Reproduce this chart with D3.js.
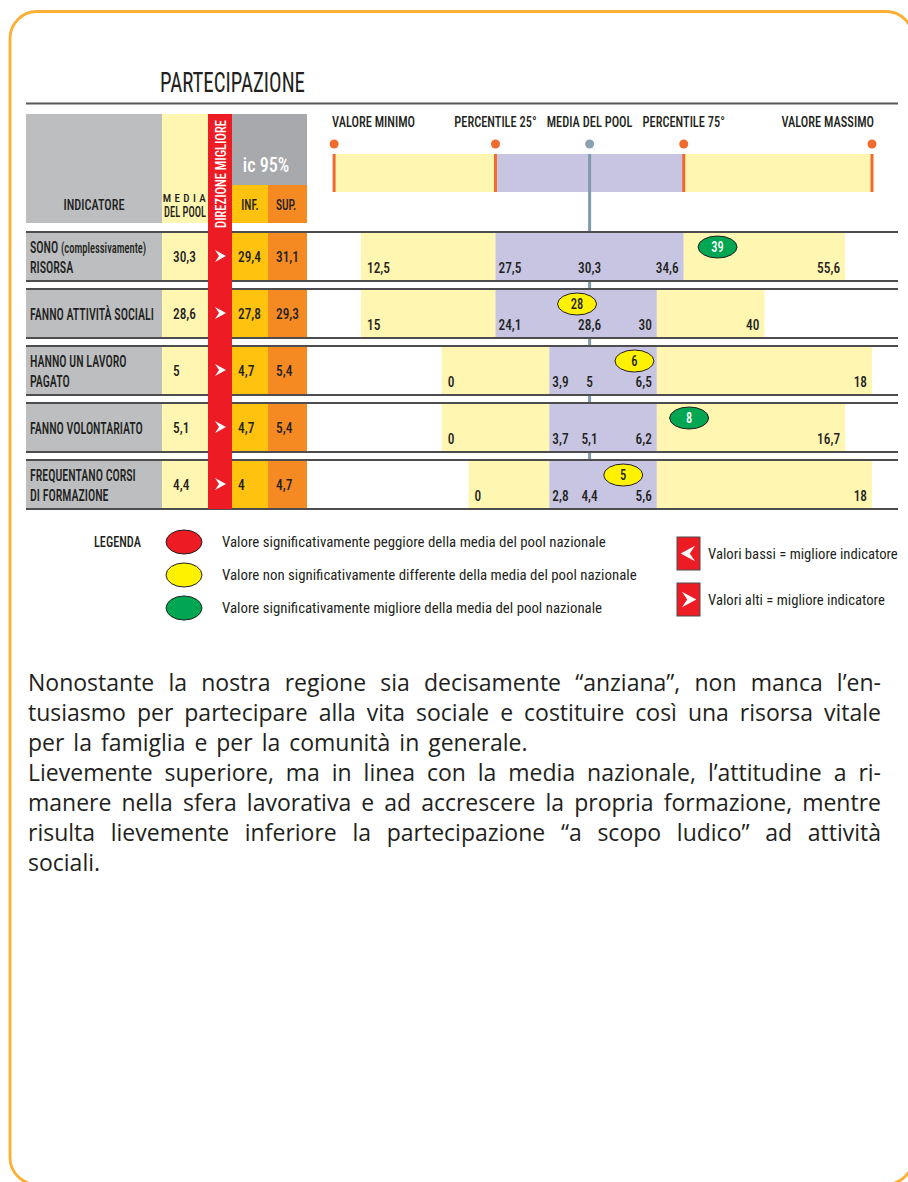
<!DOCTYPE html>
<html>
<head>
<meta charset="utf-8">
<script src="https://cdn.jsdelivr.net/npm/d3@7"></script>
<style>
  body { margin: 0; background: #fff; }
  svg { display: block; }
</style>
</head>
<body>
<script>
// ---- dati ----
var titolo = "PARTECIPAZIONE";
var indicatori = [
    ["SONO (complessivamente)", "RISORSA"],
    ["FANNO ATTIVITÀ SOCIALI"],
    ["HANNO UN LAVORO", "PAGATO"],
    ["FANNO VOLONTARIATO"],
    ["FREQUENTANO CORSI", "DI FORMAZIONE"]
];
var mediaPool = [30.3, 28.6, 5, 5.1, 4.4];
var icInf = [29.4, 27.8, 4.7, 4.7, 4];
var icSup = [31.1, 29.3, 5.4, 5.4, 4.7];
var direzione = ["alti", "alti", "alti", "alti", "alti"];
var valoreMinimo = [12.5, 15, 0, 0, 0];
var percentile25 = [27.5, 24.1, 3.9, 3.7, 2.8];
var percentile75 = [34.6, 30, 6.5, 6.2, 5.6];
var valoreMassimo = [55.6, 40, 18, 16.7, 18];
var valoreRegione = [39, 28, 6, 8, 5];
var giudizio = ["migliore", "nonDiff", "nonDiff", "migliore", "nonDiff"];

var vociScala = ["VALORE MINIMO", "PERCENTILE 25°", "MEDIA DEL POOL", "PERCENTILE 75°", "VALORE MASSIMO"];
var legendaChiavi = ["peggiore", "nonDiff", "migliore"];
var legendaTesti = [
    "Valore  significativamente peggiore  della media del pool nazionale",
    "Valore non significativamente differente della media del pool nazionale",
    "Valore significativamente migliore della media del pool nazionale"
];
var direzioneChiavi = ["bassi", "alti"];
var direzioneTesti = ["Valori bassi = migliore indicatore", "Valori alti = migliore indicatore"];

var paragrafi = [
    ["Nonostante la nostra regione sia decisamente “anziana”, non manca l’en-",
     "tusiasmo per partecipare alla vita sociale e costituire così una risorsa vitale",
     "per la famiglia e per la comunità in generale."],
    ["Lievemente superiore, ma in linea con la media nazionale, l’attitudine a ri-",
     "manere nella sfera lavorativa e ad accrescere la propria formazione, mentre",
     "risulta lievemente inferiore la partecipazione “a scopo ludico” ad attività",
     "sociali."]
];

// ---- impaginazione ----
var W = 908, H = 1182;
var COND = "'Roboto Condensed', 'Liberation Sans Narrow', Roboto, sans-serif";
var INK = "#231f20";

// griglia della spina: colonne da 27px circa
var gridX = d3.scaleLinear().domain([0, 19]).range([361, 872]);
// posizione (in colonne) di minimo, 25°, media, 75°, massimo per ogni riga
var spineLayout = [[0, 5, 8.5, 12, 18], [0, 5, 8.5, 11, 15], [3, 7, 8.5, 11, 19], [3, 7, 8.5, 11, 18], [4, 7, 8.5, 11, 19]];
var headerLayout = [-1, 5, 8.5, 12, 19];

var rowBand = d3.scaleBand().domain(d3.range(indicatori.length)).range([232, 509]).paddingInner(8 / 57);

var colore = d3.scaleOrdinal().domain(legendaChiavi).range(["#ed1c24", "#fff200", "#00a651"]);

var fmt = d3.formatLocale({decimal: ",", thousands: ".", grouping: [3], currency: ["", "€"]}).format("~g");

var svg = d3.select("body").append("svg")
    .attr("width", W)
    .attr("height", H);

// fattore di compressione orizzontale per imitare il carattere condensato
function fit(sample, size, weight, target) {
    var t = svg.append("text")
        .style("font-family", COND)
        .attr("font-size", size)
        .attr("font-weight", weight)
        .text(sample);
    var w = t.node().getComputedTextLength();
    t.remove();
    return target / w;
}

function label(g, o) {
    return g.append("text")
        .attr("transform", "translate(" + o.x + "," + o.y + ")" + (o.rot ? " rotate(" + o.rot + ")" : "") + " scale(" + o.k + ",1)")
        .attr("text-anchor", o.anchor || "start")
        .attr("font-size", o.size)
        .attr("font-weight", o.weight || 500)
        .style("font-family", COND)
        .attr("fill", o.fill || INK)
        .text(o.text);
}

var kTitle = fit("PARTECIPAZIONE", 27, 400, 145);
var kRow = fit("FANNO ATTIVITÀ SOCIALI", 16, 500, 124);
var kHead = fit("VALORE MINIMO", 14, 500, 83);
var kNum = fit("30,3", 15, 500, 23);
var kSmall = fit("INDICATORE", 15, 500, 61);
var kPool = fit("DEL POOL", 14, 500, 42);
var kLeg = fit(legendaTesti[1], 15, 400, 415);
var kLeg2 = fit(direzioneTesti[0], 15, 400, 190);
var kDir = fit("DIREZIONE MIGLIORE", 15, 500, 108);

// cornice
svg.append("rect")
    .attr("x", 10).attr("y", 11.5)
    .attr("width", 903).attr("height", 1173)
    .attr("rx", 27)
    .attr("fill", "none")
    .attr("stroke", "#fbb034")
    .attr("stroke-width", 2.8);

var g = svg.append("g");

label(g, {x: 160, y: 92, text: titolo, size: 27, k: kTitle, weight: 400});

g.append("line")
    .attr("x1", 26).attr("x2", 898)
    .attr("y1", 103.5).attr("y2", 103.5)
    .attr("stroke", "#58595b").attr("stroke-width", 2);

// intestazione tabella
g.append("rect").attr("x", 26).attr("y", 114).attr("width", 136).attr("height", 109).attr("fill", "#bcbec0");
g.append("rect").attr("x", 162).attr("y", 114).attr("width", 46).attr("height", 109).attr("fill", "#fff6b2");
g.append("rect").attr("x", 232).attr("y", 114).attr("width", 75).attr("height", 71).attr("fill", "#a7a9ac");
g.append("rect").attr("x", 232).attr("y", 185).attr("width", 36).attr("height", 38).attr("fill", "#ffc20e");
g.append("rect").attr("x", 268).attr("y", 185).attr("width", 39).attr("height", 38).attr("fill", "#f58a22");

label(g, {x: 94, y: 210, text: "INDICATORE", size: 15, k: kSmall, anchor: "middle"});
label(g, {x: 186, y: 202, text: "MEDIA", size: 11, k: 1, anchor: "middle"}).attr("letter-spacing", 3.4);
label(g, {x: 185, y: 217, text: "DEL POOL", size: 14, k: kPool, anchor: "middle"});
label(g, {x: 266, y: 172, text: "ic 95%", size: 21, k: kSmall * 1.05, anchor: "middle", fill: "#fff"});
label(g, {x: 250, y: 210, text: "INF.", size: 14, k: kSmall, anchor: "middle"});
label(g, {x: 286, y: 210, text: "SUP.", size: 14, k: kSmall, anchor: "middle"});

// legenda della spina in alto
var headerX = headerLayout.map(gridX);
var hb = g.append("g");
hb.append("rect").attr("x", headerX[0]).attr("y", 154).attr("width", headerX[1] - headerX[0]).attr("height", 38).attr("fill", "#fff6b2");
hb.append("rect").attr("x", headerX[1]).attr("y", 154).attr("width", headerX[3] - headerX[1]).attr("height", 38).attr("fill", "#c7c5e1");
hb.append("rect").attr("x", headerX[3]).attr("y", 154).attr("width", headerX[4] - headerX[3]).attr("height", 38).attr("fill", "#fff6b2");
hb.selectAll("rect.tick")
    .data([0, 1, 3, 4])
    .enter().append("rect")
    .attr("class", "tick")
    .attr("x", function(d) { return headerX[d] - 1.5; })
    .attr("y", 154).attr("width", 3).attr("height", 38)
    .attr("fill", "#f26b2e");
hb.selectAll("circle")
    .data(vociScala)
    .enter().append("circle")
    .attr("cx", function(d, i) { return headerX[i]; })
    .attr("cy", 144)
    .attr("r", 4.5)
    .attr("fill", function(d, i) { return i === 2 ? "#8aa1af" : "#f26b2e"; });
vociScala.forEach(function(v, i) {
    var anchor = i === 0 ? "start" : (i === 4 ? "end" : "middle");
    var x = headerX[i] + (i === 0 ? -2 : (i === 4 ? 2 : 0));
    label(hb, {x: x, y: 127, text: v, size: 14, k: kHead, anchor: anchor});
});

// linea della media del pool
g.append("line")
    .attr("x1", headerX[2]).attr("x2", headerX[2])
    .attr("y1", 154).attr("y2", 509)
    .attr("stroke", "#7f9bab").attr("stroke-width", 3);

// righe
var rows = g.selectAll("g.row")
    .data(indicatori)
    .enter().append("g")
    .attr("class", "row");

rows.each(function(lines, i) {
    var r = d3.select(this);
    var top = rowBand(i), bw = rowBand.bandwidth();
    var s = d3.scaleLinear()
        .domain([valoreMinimo[i], percentile25[i], mediaPool[i], percentile75[i], valoreMassimo[i]])
        .range(spineLayout[i].map(gridX));

    r.append("rect").attr("x", s(valoreMinimo[i])).attr("y", top).attr("width", s(percentile25[i]) - s(valoreMinimo[i])).attr("height", bw).attr("fill", "#fff6b2");
    r.append("rect").attr("x", s(percentile25[i])).attr("y", top).attr("width", s(percentile75[i]) - s(percentile25[i])).attr("height", bw).attr("fill", "#c7c5e1");
    r.append("rect").attr("x", s(percentile75[i])).attr("y", top).attr("width", s(valoreMassimo[i]) - s(percentile75[i])).attr("height", bw).attr("fill", "#fff6b2");

    r.append("rect").attr("x", 26).attr("y", top).attr("width", 136).attr("height", bw).attr("fill", "#bcbec0");
    r.append("rect").attr("x", 162).attr("y", top).attr("width", 46).attr("height", bw).attr("fill", "#fff6b2");
    r.append("rect").attr("x", 232).attr("y", top).attr("width", 36).attr("height", bw).attr("fill", "#ffc20e");
    r.append("rect").attr("x", 268).attr("y", top).attr("width", 39).attr("height", bw).attr("fill", "#f58a22");

    [top, top + bw].forEach(function(y) {
        r.append("line").attr("x1", 26).attr("x2", 898).attr("y1", y).attr("y2", y)
            .attr("stroke", "#4d4d4f").attr("stroke-width", 2);
    });

    // nome indicatore
    if (lines.length === 1) {
        label(r, {x: 30, y: top + 30.5, text: lines[0], size: 16, k: kRow});
    } else {
        lines.forEach(function(l, j) {
            var t = label(r, {x: 30, y: top + 20.5 + j * 20, text: "", size: 16, k: kRow});
            var m = l.match(/^([^(]*)(\(.*\))?$/);
            t.append("tspan").text(m[1]);
            if (m[2]) t.append("tspan").attr("font-size", 14).text(m[2]);
        });
    }

    label(r, {x: 173, y: top + 30, text: fmt(mediaPool[i]), size: 15, k: kNum});
    label(r, {x: 238, y: top + 30, text: fmt(icInf[i]), size: 15, k: kNum});
    label(r, {x: 276, y: top + 30, text: fmt(icSup[i]), size: 15, k: kNum});

    // etichette della spina
    var ly = top + 41;
    label(r, {x: s(valoreMinimo[i]) + 6, y: ly, text: fmt(valoreMinimo[i]), size: 15, k: kNum});
    label(r, {x: s(percentile25[i]) + 3, y: ly, text: fmt(percentile25[i]), size: 15, k: kNum});
    label(r, {x: s(mediaPool[i]), y: ly, text: fmt(mediaPool[i]), size: 15, k: kNum, anchor: "middle"});
    label(r, {x: s(percentile75[i]) - 5, y: ly, text: fmt(percentile75[i]), size: 15, k: kNum, anchor: "end"});
    label(r, {x: s(valoreMassimo[i]) - 5, y: ly, text: fmt(valoreMassimo[i]), size: 15, k: kNum, anchor: "end"});

    // valore regionale
    var cx = s(valoreRegione[i]);
    r.append("ellipse")
        .attr("cx", cx).attr("cy", top + 15)
        .attr("rx", 19.5).attr("ry", 11)
        .attr("fill", colore(giudizio[i]))
        .attr("stroke", INK).attr("stroke-width", 1);
    label(r, {x: cx, y: top + 20, text: fmt(valoreRegione[i]), size: 14, k: kNum, anchor: "middle",
        fill: giudizio[i] === "migliore" ? "#fff" : INK});
});

// colonna direzione migliore
var chevron = {alti: "M-5,-6 L6,0 L-5,6 L-1,0 Z", bassi: "M5,-6 L-6,0 L5,6 L1,0 Z"};
g.append("rect").attr("x", 208).attr("y", 114).attr("width", 24).attr("height", 395).attr("fill", "#ed1c24");
label(g, {x: 226, y: 174, rot: -90, text: "DIREZIONE MIGLIORE", size: 15, k: kDir, anchor: "middle", fill: "#fff"});
g.selectAll("path.dir")
    .data(direzione)
    .enter().append("path")
    .attr("class", "dir")
    .attr("d", function(d) { return chevron[d]; })
    .attr("transform", function(d, i) { return "translate(220," + (rowBand(i) + 24) + ")"; })
    .attr("fill", "#fff");

// legenda
var lg = svg.append("g");
label(lg, {x: 94, y: 547, text: "LEGENDA", size: 15, k: kSmall});
legendaChiavi.forEach(function(k, i) {
    var cy = 542 + i * 33;
    lg.append("ellipse").attr("cx", 184).attr("cy", cy).attr("rx", 18).attr("ry", 12)
        .attr("fill", colore(k)).attr("stroke", INK).attr("stroke-width", 1);
    label(lg, {x: 222, y: cy + 5, text: legendaTesti[i], size: 15, k: kLeg, weight: 400});
});
direzioneChiavi.forEach(function(k, i) {
    var y = 537 + i * 46;
    lg.append("rect").attr("x", 677).attr("y", y).attr("width", 23).attr("height", 33)
        .attr("fill", "#ed1c24").attr("stroke", "#4d4d4f").attr("stroke-width", 1);
    lg.append("path").attr("d", chevron[k])
        .attr("transform", "translate(688.5," + (y + 16.5) + ") scale(1.3)")
        .attr("fill", "#fff");
    label(lg, {x: 708, y: y + 22, text: direzioneTesti[i], size: 15, k: kLeg2, weight: 400});
});

// testo di commento, giustificato
var tg = svg.append("g")
    .style("font-family", "'Open Sans', 'Noto Sans', sans-serif")
    .attr("font-size", 23)
    .attr("fill", INK);
var lineNo = 0;
paragrafi.forEach(function(p) {
    p.forEach(function(l, j) {
        var t = tg.append("text")
            .attr("x", 28)
            .attr("y", 691 + lineNo * 30)
            .text(l);
        if (j < p.length - 1) {
            var len = t.node().getComputedTextLength();
            var spaces = l.split(" ").length - 1;
            t.attr("word-spacing", (853 - len) / spaces);
        } else {
            t.attr("word-spacing", 3);
        }
        lineNo++;
    });
});
</script>
</body>
</html>
